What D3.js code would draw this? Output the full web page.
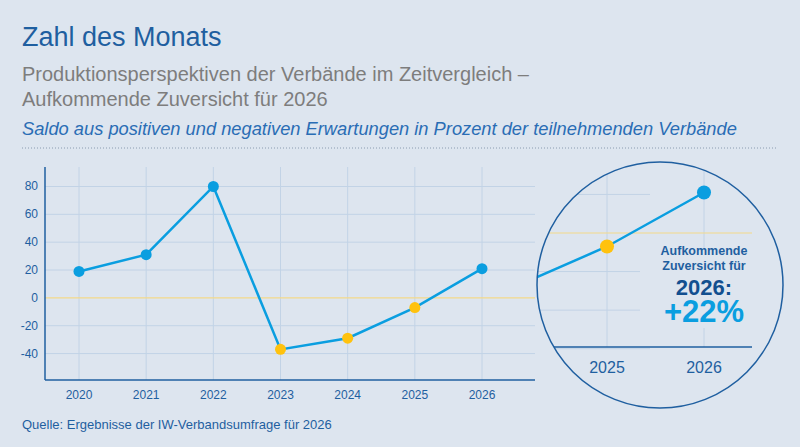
<!DOCTYPE html>
<html><head><meta charset="utf-8">
<script src="https://cdn.jsdelivr.net/npm/d3@7"></script>
<style>body{margin:0;background:#dde5ef;}svg{display:block;font-family:"Liberation Sans",Arial,sans-serif;}</style>
</head><body><svg id="c" width="800" height="447"></svg>
<script>
var years = [2020, 2021, 2022, 2023, 2024, 2025, 2026];
var saldo = [19, 31, 80, -37, -29, -7, 21];
var yTicks = [-40, -20, 0, 20, 40, 60, 80];
var zoomYears = [2025, 2026];

var blue = "#0a9ee0", yellow = "#ffc20e", dark = "#1f5fa0", grid = "#c2d3e6";
var svg = d3.select("#c");

// header
svg.append("text").attr("x", 22).attr("y", 46).attr("font-size", 27).attr("fill", dark).text("Zahl des Monats");
svg.append("text").attr("x", 22).attr("y", 81).attr("font-size", 20).attr("fill", "#7d7d7d").text("Produktionsperspektiven der Verbände im Zeitvergleich –");
svg.append("text").attr("x", 22).attr("y", 106).attr("font-size", 20).attr("fill", "#7d7d7d").text("Aufkommende Zuversicht für 2026");
svg.append("text").attr("x", 22).attr("y", 135).attr("font-size", 18.3).attr("font-style", "italic").attr("fill", "#2a6db5").text("Saldo aus positiven und negativen Erwartungen in Prozent der teilnehmenden Verbände");
svg.append("line").attr("x1", 22).attr("x2", 778).attr("y1", 148).attr("y2", 148).attr("stroke", "#8a9bb0").attr("stroke-dasharray", "1,2");

// main chart
var x = d3.scalePoint().domain(years).range([79, 482]);
var y = d3.scaleLinear().domain([-59, 94]).range([380, 167]);
var g = svg.append("g");
g.selectAll(".vg").data(years).join("line").attr("x1", d => x(d)).attr("x2", d => x(d)).attr("y1", 167).attr("y2", 380).attr("stroke", grid);
g.selectAll(".hg").data(yTicks.filter(d => d !== 0)).join("line").attr("x1", 45).attr("x2", 535).attr("y1", d => y(d)).attr("y2", d => y(d)).attr("stroke", grid);
g.append("line").attr("x1", 45).attr("x2", 535).attr("y1", y(0)).attr("y2", y(0)).attr("stroke", "#f3d98a").attr("stroke-width", 1.2);
g.append("line").attr("x1", 45).attr("x2", 45).attr("y1", 167).attr("y2", 380).attr("stroke", dark).attr("stroke-width", 1.5);
g.append("line").attr("x1", 45).attr("x2", 535).attr("y1", 380).attr("y2", 380).attr("stroke", dark).attr("stroke-width", 1.5);
g.selectAll(".yl").data(yTicks).join("text").attr("x", 38).attr("y", d => y(d) + 4).attr("text-anchor", "end").attr("font-size", 12).attr("fill", dark).text(d => d);
g.selectAll(".xl").data(years).join("text").attr("x", d => x(d)).attr("y", 399).attr("text-anchor", "middle").attr("font-size", 12).attr("fill", dark).text(d => d);
var pts = years.map((d, i) => [d, saldo[i]]);
g.append("path").datum(pts).attr("d", d3.line().x(d => x(d[0])).y(d => y(d[1]))).attr("fill", "none").attr("stroke", blue).attr("stroke-width", 2.5);
g.selectAll(".pt").data(pts).join("circle").attr("cx", d => x(d[0])).attr("cy", d => y(d[1])).attr("r", 5.5).attr("fill", d => d[1] < 0 ? yellow : blue);

// zoom circle
var cx = 660, cy = 285, r = 123;
svg.append("clipPath").attr("id", "cc").append("circle").attr("cx", cx).attr("cy", cy).attr("r", r);
var z = svg.append("g").attr("clip-path", "url(#cc)");
var zx = d3.scaleLinear().domain([2025, 2026]).range([607, 704]);
var zy = d3.scaleLinear().domain([0, 21]).range([233, 192.5]);
zoomYears.forEach(d => z.append("line").attr("x1", zx(d)).attr("x2", zx(d)).attr("y1", 160).attr("y2", 347).attr("stroke", grid));
[20, 40, -20, -40, -60].forEach(v => z.append("line").attr("x1", 530).attr("x2", 650).attr("y1", zy(v)).attr("y2", zy(v)).attr("stroke", grid));
z.append("line").attr("x1", 530).attr("x2", 752).attr("y1", zy(0)).attr("y2", zy(0)).attr("stroke", "#f3d98a").attr("stroke-width", 1.2);
z.append("rect").attr("x", 640).attr("y", 248).attr("width", 112).attr("height", 80).attr("fill", "#dde5ef");
z.append("line").attr("x1", 530).attr("x2", 752).attr("y1", 347).attr("y2", 347).attr("stroke", dark).attr("stroke-width", 1.5);
var zpts = pts.filter(d => d[0] >= 2024);
z.append("path").datum(zpts).attr("d", d3.line().x(d => zx(d[0])).y(d => zy(d[1]))).attr("fill", "none").attr("stroke", blue).attr("stroke-width", 2.5);
z.selectAll(".zp").data(zpts.filter(d => d[0] >= 2025)).join("circle").attr("cx", d => zx(d[0])).attr("cy", d => zy(d[1])).attr("r", 7).attr("fill", d => d[1] < 0 ? yellow : blue);
z.selectAll(".zl").data(zoomYears).join("text").attr("x", d => zx(d)).attr("y", 373).attr("text-anchor", "middle").attr("font-size", 16).attr("fill", dark).text(d => d);
svg.append("circle").attr("cx", cx).attr("cy", cy).attr("r", r).attr("fill", "none").attr("stroke", dark).attr("stroke-width", 1.5);
var tg = svg.append("g").attr("text-anchor", "middle").attr("font-weight", "bold");
tg.append("text").attr("x", 704).attr("y", 255).attr("font-size", 12.5).attr("fill", dark).text("Aufkommende");
tg.append("text").attr("x", 704).attr("y", 270).attr("font-size", 12.5).attr("fill", dark).text("Zuversicht für");
tg.append("text").attr("x", 704).attr("y", 295).attr("font-size", 22).attr("fill", "#124f8f").text("2026:");
tg.append("text").attr("x", 704).attr("y", 322).attr("font-size", 31).attr("fill", blue).text("+22%");

svg.append("text").attr("x", 22).attr("y", 429).attr("font-size", 13).attr("fill", dark).text("Quelle: Ergebnisse der IW-Verbandsumfrage für 2026");
</script></body></html>
